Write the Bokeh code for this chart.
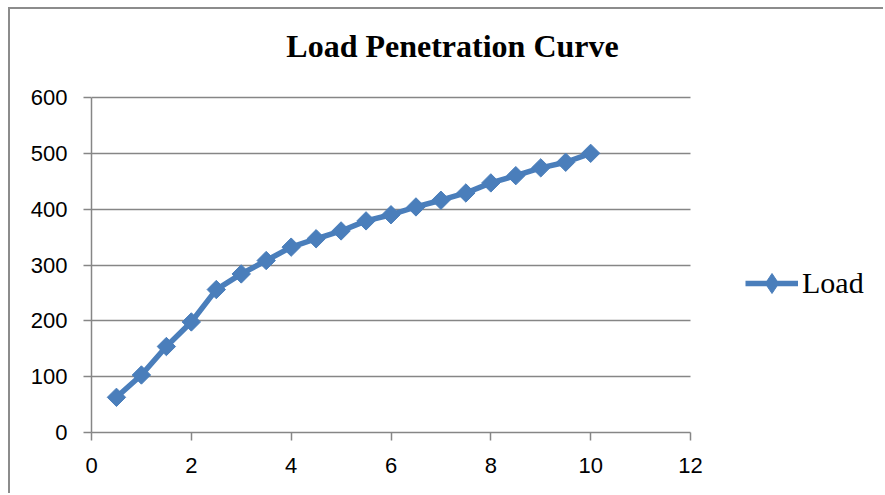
import numpy as np
from bokeh.plotting import figure
from bokeh.models import Range1d, FixedTicker, Legend, LegendItem, Label
from bokeh.embed import file_html
from bokeh.resources import INLINE

penetration = [0.5, 1, 1.5, 2, 2.5, 3, 3.5, 4, 4.5, 5, 5.5, 6, 6.5, 7, 7.5, 8, 8.5, 9, 9.5, 10]
load = [63, 103, 154, 198, 256, 284, 308, 332, 347, 361, 379, 390, 404, 416, 429, 447, 460, 474, 484, 500]
x_ticks = [0, 2, 4, 6, 8, 10, 12]
y_ticks = [0, 100, 200, 300, 400, 500, 600]
title_text = "Load Penetration Curve"
series_name = "Load"

BLUE = "#4A7EBB"
GRAY = "#868686"

# layout (page pixels): axes box x 91..690, y 97..432; canvas starts at (10, 9)
X0, X1, Y0, Y1 = x_ticks[0], x_ticks[-1], y_ticks[0], y_ticks[-1]
x_end = X1 * (885 - 91) / (690 - 91)
y_end = Y1 * (432 - 9) / (432 - 97)

p = figure(width=875, height=486, output_backend="svg", toolbar_location=None,
           x_range=Range1d(X0, x_end), y_range=Range1d(Y0, y_end),
           min_border_left=81, min_border_right=0, min_border_top=0, min_border_bottom=63)
p.margin = (7, 0, 0, 8)
p.styles = {"border-left": "2px solid #8c8c8c", "border-top": "2px solid #8c8c8c"}
p.outline_line_color = None
p.background_fill_color = "white"
p.border_fill_color = "white"

p.xgrid.visible = False
p.ygrid.grid_line_color = GRAY
p.ygrid.grid_line_width = 1.5
p.ygrid.ticker = FixedTicker(ticks=y_ticks)
seg_grid = False
try:
    p.ygrid.cross_bounds = (X0, X1)
except Exception:
    seg_grid = True
    p.ygrid.visible = False

for ax in (p.xaxis[0], p.yaxis[0]):
    ax.axis_line_color = GRAY
    ax.axis_line_width = 1.5
    ax.major_tick_line_color = GRAY
    ax.major_tick_line_width = 1.5
    ax.major_tick_in = 0
    ax.major_tick_out = 8
    ax.minor_tick_line_color = None
    ax.major_label_text_font = "Liberation Sans"
    ax.major_label_text_font_size = "22px"
    ax.major_label_text_color = "black"

p.xaxis.ticker = FixedTicker(ticks=x_ticks)
p.yaxis.ticker = FixedTicker(ticks=y_ticks)
p.xaxis.bounds = (X0, X1)
p.yaxis.bounds = (Y0, Y1)
p.yaxis.major_label_standoff = 16
p.xaxis.major_label_standoff = 17

if seg_grid:
    p.segment(x0=[X0] * len(y_ticks), x1=[X1] * len(y_ticks), y0=y_ticks, y1=y_ticks,
              line_color=GRAY, line_width=1.5)

r_line = p.line(penetration, load, line_color=BLUE, line_width=5.5)
r_pts = p.scatter(penetration, load, marker="square", angle=np.pi / 4, size=13,
                  fill_color=BLUE, line_color=BLUE)
# legend glyph: diamond (legend glyphs ignore marker angle); size 0 so it adds nothing to the plot
r_leg = p.scatter(penetration, load, marker="diamond", size=0, fill_color=BLUE, line_color=BLUE)

legend = Legend(items=[LegendItem(label=series_name, renderers=[r_line, r_leg])],
                location=(654, 124), border_line_color=None, background_fill_alpha=0,
                padding=0, margin=0, glyph_width=53, glyph_height=50, label_height=50,
                label_standoff=4,
                label_text_font="Liberation Serif", label_text_font_size="30px",
                label_text_color="black")
p.add_layout(legend, "center")

title = Label(x=7.232, y=691.5, text=title_text, text_align="center", text_baseline="alphabetic",
              text_font="Liberation Serif", text_font_style="bold", text_font_size="32px",
              text_color="black")
p.add_layout(title)

open("out.html", "w").write(file_html(p, INLINE))
